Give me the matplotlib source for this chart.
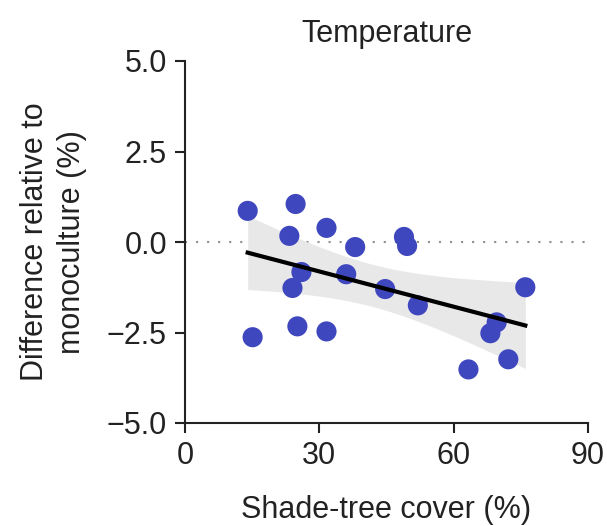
import numpy as np
import matplotlib
matplotlib.use("Agg")
import matplotlib.pyplot as plt

plt.rcParams['font.family'] = ['Liberation Sans', 'DejaVu Sans']

shade_cover = [14.0, 15.1, 24.7, 23.3, 24.0, 25.1, 26.0, 31.6, 31.6, 38.0,
               36.0, 44.7, 48.9, 49.6, 52.0, 63.3, 68.2, 69.6, 72.2, 76.0]
temp_diff = [0.86, -2.63, 1.05, 0.17, -1.27, -2.33, -0.83, 0.39, -2.47, -0.14,
             -0.89, -1.30, 0.14, -0.11, -1.75, -3.52, -2.52, -2.22, -3.24, -1.25]

x = np.array(shade_cover)
y = np.array(temp_diff)

fig = plt.figure(figsize=(6.07, 5.26), dpi=100)
ax = fig.add_axes([185 / 607, 1 - 423 / 526, (588 - 185) / 607, (423 - 61) / 526])

# regression and 95% CI
n = len(x)
b1, b0 = np.polyfit(x, y, 1)
xs = np.linspace(x.min(), x.max(), 100)
ys = b0 + b1 * xs
resid = y - (b0 + b1 * x)
s = np.sqrt(np.sum(resid**2) / (n - 2))
sxx = np.sum((x - x.mean())**2)
tval = 2.101
se = s * np.sqrt(1.0 / n + (xs - x.mean())**2 / sxx)
ax.fill_between(xs, ys - tval * se, ys + tval * se, color='#E8E8E8', lw=0, zorder=1)

ax.axhline(0, color='#8f8f8f', lw=1.5, ls=(0, (1, 4.3)), zorder=0)
ax.scatter(x, y, s=210, color='#3F47BF', edgecolors='none', zorder=3)
ax.plot(xs, ys, color='black', lw=3, zorder=4)

ax.set_xlim(0, 90)
ax.set_ylim(-5, 5)
ax.set_xticks([0, 30, 60, 90])
ax.set_yticks([-5, -2.5, 0, 2.5, 5])
ax.set_yticklabels(['\u22125.0', '\u22122.5', '0.0', '2.5', '5.0'])
for sp in ['top', 'right']:
    ax.spines[sp].set_visible(False)
for sp in ['left', 'bottom']:
    ax.spines[sp].set_linewidth(1.5)
    ax.spines[sp].set_color('#222222')
ax.tick_params(width=1.5, length=7, pad=6, labelsize=22, color='#222222', labelcolor='#222222')
ax.set_title('Temperature', fontsize=22, pad=14, color='#222222')
ax.set_xlabel('Shade-tree cover (%)', fontsize=22, labelpad=17, color='#222222')
ax.set_ylabel('Difference relative to\nmonoculture (%)', fontsize=22, labelpad=14,
              color='#222222', linespacing=1.3)

fig.savefig('out.png', dpi=100)
